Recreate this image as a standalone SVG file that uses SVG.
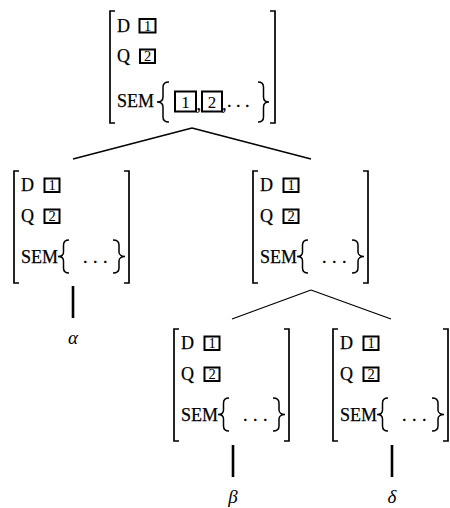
<svg xmlns="http://www.w3.org/2000/svg" width="450" height="508" viewBox="0 0 450 508">
<style>
  .t { font-family: "Liberation Serif", "Times New Roman", serif; font-size: 18px; fill: #000; stroke: #000; stroke-width: 0.25; }
  .n { font-family: "Liberation Serif", "Times New Roman", serif; font-size: 14.5px; fill: #000; text-anchor: middle; }
  .nb { font-family: "Liberation Serif", "Times New Roman", serif; font-size: 17px; fill: #000; text-anchor: middle; }
  .g { font-family: "Liberation Serif", "Times New Roman", serif; font-size: 19px; font-style: italic; fill: #000; text-anchor: middle; }
  .br { fill: none; stroke: #000; stroke-width: 1.7; }
  .cb { fill: none; stroke: #000; stroke-width: 1.5; }
  .box { fill: #fff; stroke: #000; stroke-width: 2; }
  .edge { stroke: #000; stroke-width: 1.3; fill: none; }
  .stem { stroke: #000; stroke-width: 2.6; fill: none; }
  .dots { letter-spacing: 5.5px; }
</style>

<g id="connectors">
  <line class="edge" x1="192" y1="128" x2="73" y2="159"/>
  <line class="edge" x1="192" y1="128" x2="311" y2="159"/>
  <line class="edge" x1="311" y1="290" x2="232" y2="319"/>
  <line class="edge" x1="311" y1="290" x2="391" y2="319"/>
  <line class="stem" x1="73" y1="286" x2="73" y2="318"/>
  <line class="stem" x1="233" y1="445" x2="233" y2="477"/>
  <line class="stem" x1="392" y1="445" x2="392" y2="477"/>
</g>

<g id="root" transform="translate(110,11)">
  <path class="br" d="M5,0 H0 V112 H5"/>
  <path class="br" d="M160,0 H165 V112 H160"/>
  <text class="t" x="7" y="21">D</text>
  <rect class="box" x="29.5" y="8" width="16" height="13.5"/>
  <text class="n" x="37.5" y="19.8">1</text>
  <text class="t" x="7" y="51">Q</text>
  <rect class="box" x="30" y="38.5" width="15" height="13.5"/>
  <text class="n" x="37.5" y="50.3">2</text>
  <text class="t" x="7" y="96">SEM</text>
  <path class="cb" d="M59,71 C55,71 53,72.5 53,76 L53,86 C53,89.5 50,91 47,91 C50,91 53,92.5 53,96 L53,106 C53,109.5 55,111 59,111"/>
  <rect class="box" x="65" y="80.5" width="21" height="20"/>
  <text class="nb" x="75.5" y="96.5">1</text>
  <text class="t" x="86.5" y="99">,</text>
  <rect class="box" x="92" y="80.5" width="20" height="20"/>
  <text class="nb" x="102" y="96.5">2</text>
  <text class="t" x="112" y="99">,</text>
  <text class="t" x="117" y="96" letter-spacing="4.5">...</text>
  <path class="cb" d="M148,71 C152,71 153.5,72.5 153.5,76 L153.5,86 C153.5,89.5 156,91 159,91 C156,91 153.5,92.5 153.5,96 L153.5,106 C153.5,109.5 152,111 148,111"/>
</g>

<g id="left" transform="translate(14,171)">
  <path class="br" d="M5,0 H0 V112 H5"/>
  <path class="br" d="M110,0 H115 V112 H110"/>
  <text class="t" x="7" y="20">D</text>
  <rect class="box" x="30.5" y="7.5" width="15" height="13.5"/>
  <text class="n" x="38" y="19.3">1</text>
  <text class="t" x="7" y="51">Q</text>
  <rect class="box" x="30.5" y="38.5" width="15" height="13.5"/>
  <text class="n" x="38" y="50.3">2</text>
  <text class="t" x="7" y="92">SEM</text>
  <path class="cb" d="M55,69 C51,69 49.5,70.5 49.5,74 L49.5,81 C49.5,84 47,85.5 44,85.5 C47,85.5 49.5,87 49.5,90 L49.5,97 C49.5,100.5 51,102 55,102"/>
  <text class="t dots" x="69" y="92">...</text>
  <path class="cb" d="M99,69 C103,69 105,70.5 105,74 L105,81 C105,84 108,85.5 111,85.5 C108,85.5 105,87 105,90 L105,97 C105,100.5 103,102 99,102"/>
</g>

<g id="right" transform="translate(253,171)">
  <path class="br" d="M5,0 H0 V112 H5"/>
  <path class="br" d="M110,0 H115 V112 H110"/>
  <text class="t" x="7" y="20">D</text>
  <rect class="box" x="30.5" y="7.5" width="15" height="13.5"/>
  <text class="n" x="38" y="19.3">1</text>
  <text class="t" x="7" y="51">Q</text>
  <rect class="box" x="30.5" y="38.5" width="15" height="13.5"/>
  <text class="n" x="38" y="50.3">2</text>
  <text class="t" x="7" y="92">SEM</text>
  <path class="cb" d="M55,69 C51,69 49.5,70.5 49.5,74 L49.5,81 C49.5,84 47,85.5 44,85.5 C47,85.5 49.5,87 49.5,90 L49.5,97 C49.5,100.5 51,102 55,102"/>
  <text class="t dots" x="69" y="92">...</text>
  <path class="cb" d="M99,69 C103,69 105,70.5 105,74 L105,81 C105,84 108,85.5 111,85.5 C108,85.5 105,87 105,90 L105,97 C105,100.5 103,102 99,102"/>
</g>

<g id="beta-node" transform="translate(174,329)">
  <path class="br" d="M5,0 H0 V112 H5"/>
  <path class="br" d="M110,0 H115 V112 H110"/>
  <text class="t" x="7" y="20">D</text>
  <rect class="box" x="30.5" y="7.5" width="15" height="13.5"/>
  <text class="n" x="38" y="19.3">1</text>
  <text class="t" x="7" y="51">Q</text>
  <rect class="box" x="30.5" y="38.5" width="15" height="13.5"/>
  <text class="n" x="38" y="50.3">2</text>
  <text class="t" x="7" y="92">SEM</text>
  <path class="cb" d="M55,69 C51,69 49.5,70.5 49.5,74 L49.5,81 C49.5,84 47,85.5 44,85.5 C47,85.5 49.5,87 49.5,90 L49.5,97 C49.5,100.5 51,102 55,102"/>
  <text class="t dots" x="69" y="92">...</text>
  <path class="cb" d="M99,69 C103,69 105,70.5 105,74 L105,81 C105,84 108,85.5 111,85.5 C108,85.5 105,87 105,90 L105,97 C105,100.5 103,102 99,102"/>
</g>

<g id="delta-node" transform="translate(333,329)">
  <path class="br" d="M5,0 H0 V112 H5"/>
  <path class="br" d="M110,0 H115 V112 H110"/>
  <text class="t" x="7" y="20">D</text>
  <rect class="box" x="30.5" y="7.5" width="15" height="13.5"/>
  <text class="n" x="38" y="19.3">1</text>
  <text class="t" x="7" y="51">Q</text>
  <rect class="box" x="30.5" y="38.5" width="15" height="13.5"/>
  <text class="n" x="38" y="50.3">2</text>
  <text class="t" x="7" y="92">SEM</text>
  <path class="cb" d="M55,69 C51,69 49.5,70.5 49.5,74 L49.5,81 C49.5,84 47,85.5 44,85.5 C47,85.5 49.5,87 49.5,90 L49.5,97 C49.5,100.5 51,102 55,102"/>
  <text class="t dots" x="69" y="92">...</text>
  <path class="cb" d="M99,69 C103,69 105,70.5 105,74 L105,81 C105,84 108,85.5 111,85.5 C108,85.5 105,87 105,90 L105,97 C105,100.5 103,102 99,102"/>
</g>

<g id="alpha"><text class="g" x="73" y="344">α</text></g>
<g id="beta"><text class="g" x="233" y="503">β</text></g>
<g id="delta"><text class="g" x="392" y="503">δ</text></g>
</svg>
